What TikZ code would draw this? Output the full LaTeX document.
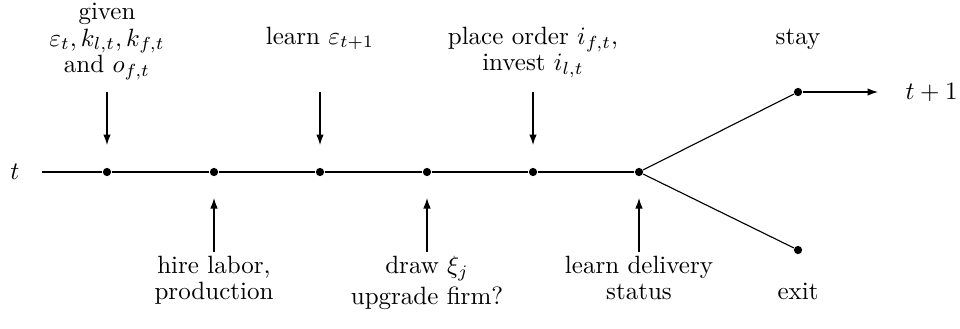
\documentclass[tikz,border=0pt]{standalone}
\usepackage{amsmath}
\usetikzlibrary{arrows.meta}

\begin{document}
\begin{tikzpicture}[
  x=0.4pt, y=-0.4pt, line width=0.45pt,
  dot/.style={circle, fill=black, inner sep=0pt, minimum size=3.3pt},
  lbl/.style={inner sep=0pt, align=center, font=\fontsize{10}{10.5}\selectfont},
  ev/.style={-{Latex[length=4.2pt,width=3pt]}},
]
\useasboundingbox (0,0) rectangle (960,328);

% points on the time line
\node[dot] (d1) at (107,172) {};
\node[dot] (d2) at (214,172) {};
\node[dot] (d3) at (320,172) {};
\node[dot] (d4) at (427,172) {};
\node[dot] (d5) at (533,172) {};
\node[dot] (d6) at (639,172) {};
\node[dot] (stay) at (798,92) {};
\node[dot] (exit) at (798,250) {};

\coordinate (start) at (42,172);
\coordinate (next) at (878,92);

\node[lbl, anchor=center] (t) at (15,172) {$t$};
\node[lbl, anchor=west] (t1) at (905,92) {$t+1$};

% time line and the stay/exit branches
\draw (start) -- (d1) -- (d2) -- (d3) -- (d4) -- (d5) -- (d6);
\draw (d6) -- (stay);
\draw (d6) -- (exit);
\draw[ev] (stay) -- (next);

% events above the line
\node[lbl, anchor=north] (given) at (107,3)
  {given\\ $\varepsilon_t, k_{l,t}, k_{f,t}$\\ and $o_{f,t}$};
\node[lbl, anchor=base] (learn) at (320,44) {learn $\varepsilon_{t+1}$};
\node[lbl, anchor=north] (order) at (533,26.6)
  {place order $i_{f,t}$,\\ invest $i_{l,t}$};
\node[lbl, anchor=base] (staylbl) at (798,44) {stay};

\coordinate (a1) at (107,92);  \coordinate (b1) at (107,145);
\coordinate (a3) at (320,92);  \coordinate (b3) at (320,145);
\coordinate (a5) at (533,92);  \coordinate (b5) at (533,145);
\draw[ev] (a1) -- (b1);
\draw[ev] (a3) -- (b3);
\draw[ev] (a5) -- (b5);

% events below the line
\node[lbl, anchor=north] (hire) at (214,255.6) {hire labor,\\ production};
\node[lbl, anchor=north] (draw) at (427,255.6) {draw $\xi_j$\\[1.8pt] upgrade firm?};
\node[lbl, anchor=north] (deliv) at (639,255.6) {learn delivery\\ status};
\node[lbl, anchor=base] (exitlbl) at (798,299) {exit};

\coordinate (a2) at (214,252);  \coordinate (b2) at (214,198);
\coordinate (a4) at (427,252);  \coordinate (b4) at (427,198);
\coordinate (a6) at (639,252);  \coordinate (b6) at (639,198);
\draw[ev] (a2) -- (b2);
\draw[ev] (a4) -- (b4);
\draw[ev] (a6) -- (b6);
\end{tikzpicture}
\end{document}
